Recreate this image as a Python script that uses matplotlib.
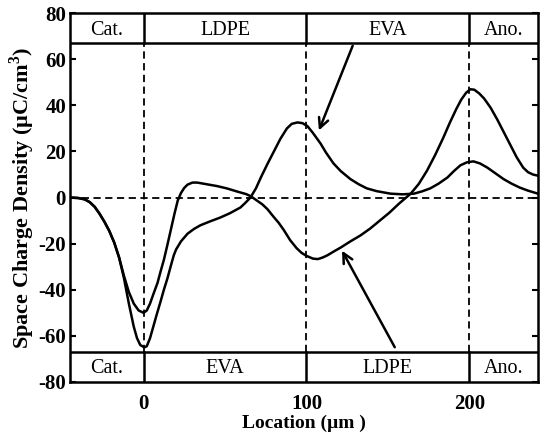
import matplotlib
matplotlib.use("Agg")
import matplotlib.pyplot as plt

# Curve A: minimum -50 at cathode, trough in LDPE (lower arrow), big peak at anode
xa = [-45, -40, -36, -33, -30, -27, -24, -21, -18, -15, -12, -9, -6, -3, 0, 2, 4, 6, 8.6, 10.5, 12.5, 14.5,
      16.6, 19, 21, 23, 25, 27, 30, 33, 37, 41, 45, 51, 58, 63, 66, 70, 73, 76, 80, 83, 86, 90, 94, 97, 100,
      104, 107, 110, 113, 117, 121, 127, 133, 139, 145, 151, 157, 164, 169, 174, 179, 184, 188, 192, 195, 198,
      200.6, 203, 206, 209, 213, 217, 221, 225, 229, 233, 236, 239, 242]
ya = [0, -0.2, -0.8, -2, -4, -7, -10.5, -14.5, -19.5, -26, -34, -41, -46, -49, -50, -49, -46, -42, -37, -32,
      -27, -21, -14.5, -7, -1.3, 2, 4.2, 5.6, 6.5, 6.5, 6, 5.5, 5, 4, 2.5, 1.5, 0.5, -1.5, -3, -5, -8.5, -11,
      -14, -18.5, -22, -24, -25.3, -26.5, -26.7, -26, -25, -23.3, -21.7, -19, -16.5, -13.5, -10, -6.5, -2.5,
      1.7, 6, 11.7, 18.5, 26, 32.5, 38.5, 42.5, 45.5, 47, 46.8, 45.2, 43, 39, 34, 28.5, 23, 17.5, 13, 11, 10,
      9.5]

# Curve B: minimum -65 at cathode, peak near EVA/LDPE interface (upper arrow)
xb = [-45, -40, -36, -33, -30, -27, -24, -21, -18, -15, -12, -9, -6, -4, -2, 0.5, 2, 4, 6, 8, 10.5, 12.5,
      14.7, 17, 18.6, 20, 23, 27, 31, 35, 41, 47, 53, 59.5, 62.5, 65.6, 69, 72, 76, 80, 84, 88, 91, 94.5, 97.5,
      100.6, 104, 108.6, 112, 116.6, 121, 127, 132, 137, 143, 151.5, 159, 166, 171, 176, 181, 186.5, 190.5,
      194.5, 198.5, 202.5, 206.5, 211, 216, 221, 226, 231, 236, 242]
yb = [0, -0.2, -0.8, -2, -4, -7, -10.5, -14.5, -19.5, -26, -35, -46, -56, -61, -64, -65, -64.5, -61, -56, -51,
      -45, -40, -35, -29, -25, -22.5, -19, -15.7, -13.6, -12, -10.3, -8.7, -6.8, -4.3, -2.3, 0, 4, 8.7, 14.5,
      20, 25.5, 30, 32, 32.6, 32.3, 31, 28, 23.5, 19.5, 14.8, 11.5, 8, 5.8, 4, 2.8, 1.7, 1.4, 1.7, 2.7, 4, 6,
      8.7, 11.5, 14, 15.3, 15.7, 14.8, 13, 10.5, 8, 6, 4.3, 3, 1.7]

interfaces = [0, 100, 200]
top_labels = ["Cat.", "LDPE", "EVA", "Ano."]
bottom_labels = ["Cat.", "EVA", "LDPE", "Ano."]
label_x = [-22.5, 50, 150, 221]
xticks = [0, 100, 200]
yticks = [-80, -60, -40, -20, 0, 20, 40, 60, 80]

plt.rcParams['font.family'] = ['Liberation Serif', 'DejaVu Serif']
plt.rcParams['axes.unicode_minus'] = False
plt.rcParams['mathtext.fontset'] = 'custom'
plt.rcParams['mathtext.rm'] = 'Liberation Serif'
plt.rcParams['mathtext.bf'] = 'Liberation Serif:bold'

fig = plt.figure(figsize=(5.4, 4.4), dpi=100)
ax = fig.add_axes([0.130, 0.132, 0.866, 0.838])
xmin, xmax, ymin, ymax = -45, 242, -80, 80
band = 67
ax.set_xlim(xmin, xmax)
ax.set_ylim(ymin, ymax)

lw = 1.8
ax.plot(xa, ya, color='black', lw=lw, solid_capstyle='round', solid_joinstyle='round')
ax.plot(xb, yb, color='black', lw=lw, solid_capstyle='round', solid_joinstyle='round')

# dashed reference lines
ax.axhline(0, color='black', lw=1.3, ls=(0, (4, 2.5)))
for xi in interfaces:
    ax.plot([xi, xi], [-band, band], color='black', lw=1.3, ls=(0, (4, 2.5)))
    ax.plot([xi, xi], [band, ymax], color='black', lw=1.8)
    ax.plot([xi, xi], [ymin, -band], color='black', lw=1.8)
ax.axhline(band, color='black', lw=1.8)
ax.axhline(-band, color='black', lw=1.8)

for lx, t in zip(label_x, top_labels):
    ax.text(lx, (band + ymax) / 2 - 0.8, t, ha='center', va='center', fontsize=14.5)
for lx, t in zip(label_x, bottom_labels):
    ax.text(lx, (ymin - band) / 2 - 0.8, t, ha='center', va='center', fontsize=14.5)

# arrows
ax.annotate('', xy=(107, 28), xytext=(129, 67),
            arrowprops=dict(arrowstyle='->,head_length=0.7,head_width=0.35', lw=1.8, color='black'))
ax.annotate('', xy=(121, -22), xytext=(155, -66),
            arrowprops=dict(arrowstyle='->,head_length=0.7,head_width=0.35', lw=1.8, color='black'))

ax.set_xticks(xticks)
ax.set_yticks(yticks)
ax.tick_params(direction='in', length=4, width=1.5, labelsize=15, right=True, top=False, pad=3)
for lab in ax.get_xticklabels() + ax.get_yticklabels():
    lab.set_fontweight('bold')
ax.tick_params(axis='x', length=0, pad=9)
for s in ax.spines.values():
    s.set_linewidth(1.8)

ax.set_xlabel('Location (\u00b5m )', fontsize=14, fontweight='bold', labelpad=0)
ax.set_ylabel('Space Charge Density (\u00b5C/cm$^\\mathbf{3}$)', fontsize=16, fontweight='bold', labelpad=1)

fig.savefig('out.png', dpi=100)
